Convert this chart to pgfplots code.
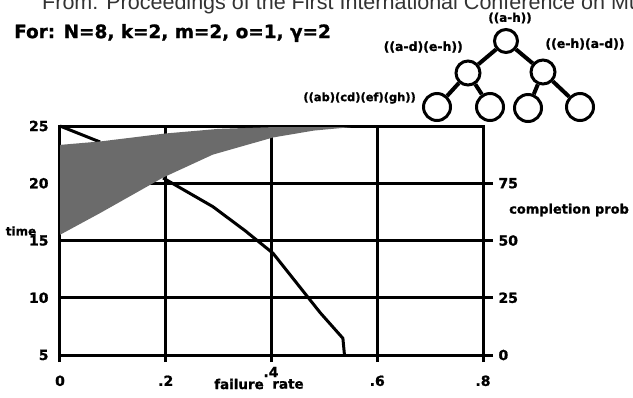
\documentclass[border=0pt]{standalone}
\usepackage{pgfplots}
\pgfplotsset{compat=1.18}
\usepackage{fontspec}
\setmainfont{DejaVu Sans}[BoldFeatures={FakeBold=1.2}]
\newfontfamily\lib{Liberation Sans}
\newcommand{\tk}{\bfseries\fontsize{14}{14}\selectfont}
\begin{document}
\begin{tikzpicture}[x=1bp,y=1bp]
\path[use as bounding box] (0,0) rectangle (633,-397);
\coordinate (O) at (60,-355);
% top cut text
\node[anchor=base west, inner sep=0, text=black!80, font=\lib\fontsize{21.6}{21.6}\selectfont] at (42,-9) {From: Proceedings of the First International Conference on Multiprocessors};
% title
\node[anchor=west, inner sep=0, font=\bfseries\fontsize{18.5}{18.5}\selectfont] at (14,-33) {For: N=8, k=2, m=2, o=1, γ=2};
% main axis (time)
\begin{axis}[at={(O)}, anchor=south west, scale only axis,
  width=423bp, height=229bp,
  xmin=0, xmax=0.8, ymin=5, ymax=25,
  xtick={0,0.2,0.4,0.6,0.8}, xticklabels={0,.2,,.6,.8},
  ytick={5,10,15,20,25},
  xtick pos=bottom, ytick pos=left,
  tick align=outside, major tick length=7bp,
  xtick style={line width=3bp, black},
  ytick style={draw=none},
  grid=major, grid style={line width=3bp, black},
  axis line style={line width=3bp},
  xticklabel style={font=\tk, yshift=-10bp},
  yticklabel style={font=\tk, xshift=-1bp},
  /pgf/number format/assume math mode=true,
  clip=false]
% completion probability curve (right scale: prob = 5*(time-5)); the part inside the band is hidden
\addplot[black, line width=3bp] coordinates {(0,25) (0.076,23.6)};
\addplot[black, line width=3bp] coordinates {
 (0.195,20.46) (0.289,17.96) (0.35,15.86) (0.403,13.88) (0.492,8.7) (0.535,6.46) (0.538,5)};
\end{axis}
% shaded time band, drawn on top
\begin{axis}[at={(O)}, anchor=south west, scale only axis,
  width=423bp, height=229bp,
  xmin=0, xmax=0.8, ymin=5, ymax=25,
  hide axis, clip=false]
\addplot[draw=none, fill=black!58] coordinates {
 (0,23.35) (0.076,23.65) (0.2,24.35) (0.3,24.75) (0.4,24.9) (0.55,24.9)
 (0.48,24.6) (0.403,24.0) (0.289,22.5) (0.195,20.5) (0.076,17.4) (0,15.5)} -- cycle;
\end{axis}
% right axis (completion probability), ticks only
\begin{axis}[at={(O)}, anchor=south west, scale only axis,
  width=423bp, height=229bp,
  xmin=0, xmax=0.8, ymin=0, ymax=100,
  axis x line=none, axis y line*=right,
  axis line style={draw=none},
  ytick={0,25,50,75},
  tick align=outside, major tick length=10bp,
  ytick style={line width=3bp, black},
  yticklabel style={font=\tk, anchor=west, xshift=2bp},
  /pgf/number format/assume math mode=true]
\end{axis}
% axis labels
\node[font=\bfseries\fontsize{12}{12}\selectfont] at (21,-231) {time};
\node[font=\bfseries\fontsize{13.5}{13.5}\selectfont] at (239,-384) {failure};
\node[font=\bfseries\fontsize{13.5}{13.5}\selectfont] at (288,-384) {rate};
\node[font=\bfseries\fontsize{14}{14}\selectfont] at (271,-372) {.4};
\node[anchor=west, inner sep=0, font=\bfseries\fontsize{13}{13}\selectfont] at (509,-210) {completion prob};
% tree diagram
\begin{scope}[every node/.style={circle, draw, line width=3bp, inner sep=0}]
\node[minimum size=23bp] (r) at (506,-41) {};
\node[minimum size=24bp] (a) at (468,-73) {};
\node[minimum size=24bp] (b) at (543,-72) {};
\node[minimum size=27bp] (a1) at (437,-107) {};
\node[minimum size=27bp] (a2) at (490,-107) {};
\node[minimum size=27bp] (b1) at (528,-108) {};
\node[minimum size=27bp] (b2) at (580,-107) {};
\end{scope}
\draw[line width=4bp] (r) -- (a) (r) -- (b) (a) -- (a1) (a) -- (a2) (b) -- (b1) (b) -- (b2);
\node[font=\bfseries\fontsize{12}{12}\selectfont] at (510,-18) {((a-h))};
\node[anchor=east, inner sep=0, font=\bfseries\fontsize{12.5}{12.5}\selectfont] at (463,-47) {((a-d)(e-h))};
\node[font=\bfseries\fontsize{12.5}{12.5}\selectfont] at (585,-44) {((e-h)(a-d))};
\node[anchor=east, inner sep=0, font=\bfseries\fontsize{11.5}{11.5}\selectfont] at (416,-98) {((ab)(cd)(ef)(gh))};
\end{tikzpicture}
\end{document}
